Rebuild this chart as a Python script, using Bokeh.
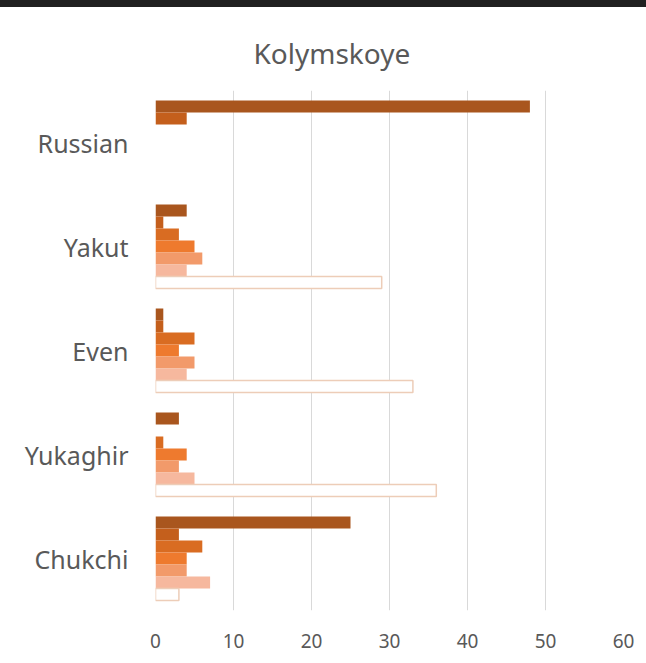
from bokeh.plotting import figure
from bokeh.models import ColumnDataSource, FactorRange, Range1d, Div, CDSView, BooleanFilter
from bokeh.layouts import column
from bokeh.transform import dodge
from bokeh.embed import file_html
from bokeh.resources import INLINE

# ---- data ----
categories = ["Chukchi", "Yukaghir", "Even", "Yakut", "Russian"]
series_names = ["Series 1", "Series 2", "Series 3", "Series 4", "Series 5", "Series 6", "Series 7"]
s1 = [25, 3, 1, 4, 48]
s2 = [3, 0, 1, 1, 4]
s3 = [6, 1, 5, 3, 0]
s4 = [4, 4, 3, 5, 0]
s5 = [4, 3, 5, 6, 0]
s6 = [7, 5, 4, 4, 0]
s7 = [3, 36, 33, 29, 0]
x_ticks = [0, 10, 20, 30, 40, 50, 60]

series = [s1, s2, s3, s4, s5, s6, s7]
fills = ["#A9561E", "#C45F1C", "#D96C22", "#EE7A2E", "#F29A6A", "#F6B89E", "#FFFFFF"]
lines = [None, None, None, None, None, None, "#EDCDB8"]

FONT = "Noto Sans"
TXT = "#595959"

p = figure(
    y_range=FactorRange(factors=categories),
    x_range=Range1d(0, 60),
    width=646, height=656,
    output_backend="svg", toolbar_location=None,
    min_border_left=155, min_border_right=23,
    min_border_top=83, min_border_bottom=53,
)

h = 12 / 104
for i, (vals, fc, lc) in enumerate(zip(series, fills, lines)):
    src = ColumnDataSource(dict(cat=categories, v=vals))
    off = (3 - i) * h
    kw = dict(y=dodge("cat", off, range=p.y_range), left=0, right="v", height=h,
              fill_color=fc, source=src)
    if lc is None:
        p.hbar(line_color=None, **kw)
    else:
        view = CDSView(filter=BooleanFilter([v > 0 for v in vals]))
        p.hbar(line_color=lc, line_width=1.5, view=view, **kw)

p.title.text = "Kolymskoye"
p.title.text_font = FONT
p.title.text_font_size = "28px"
p.title.text_font_style = "normal"
p.title.text_color = TXT
p.title.align = "left"
p.title.offset = 98
p.title.standoff = 37

p.xaxis.ticker = x_ticks
p.xaxis.axis_line_color = None
p.xaxis.major_tick_line_color = None
p.xaxis.minor_tick_line_color = None
p.xaxis.major_label_standoff = 17
p.xaxis.major_label_text_font = FONT
p.xaxis.major_label_text_font_size = "19px"
p.xaxis.major_label_text_color = TXT

p.yaxis.axis_line_color = None
p.yaxis.major_tick_line_color = None
p.yaxis.minor_tick_line_color = None
p.yaxis.major_label_standoff = 21
p.yaxis.major_label_text_font = FONT
p.yaxis.major_label_text_font_size = "25px"
p.yaxis.major_label_text_color = TXT

p.ygrid.grid_line_color = None
p.xgrid.grid_line_color = "#D9D9D9"
p.outline_line_color = None
p.background_fill_color = "white"
p.border_fill_color = "white"

top_band = Div(width=646, height=7, margin=0, styles={"background-color": "#202020"})
layout = column(top_band, p, spacing=0)

open("out.html", "w").write(file_html(layout, INLINE))
